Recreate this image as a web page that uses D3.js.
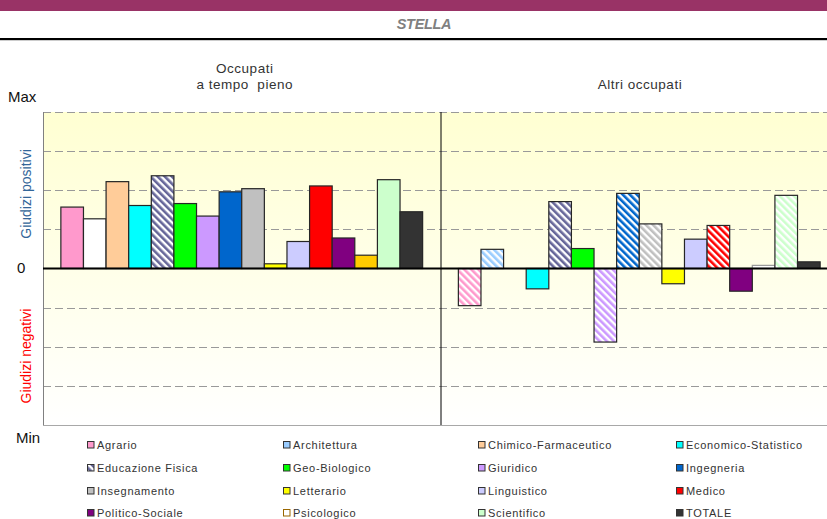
<!DOCTYPE html>
<html>
<head>
<meta charset="utf-8">
<script src="https://cdn.jsdelivr.net/npm/d3@7"></script>
<style>
  html, body { margin: 0; padding: 0; background: #fff; }
  svg { display: block; font-family: "Liberation Sans", Arial, sans-serif; }
</style>
</head>
<body>
<svg id="chart" width="827" height="519"></svg>
<script>
// ---------- DATA ----------
const categories = ["Occupati|a tempo  pieno", "Altri occupati"];
const series = ["Agrario", "Architettura", "Chimico-Farmaceutico", "Economico-Statistico",
  "Educazione Fisica", "Geo-Biologico", "Giuridico", "Ingegneria",
  "Insegnamento", "Letterario", "Linguistico", "Medico",
  "Politico-Sociale", "Psicologico", "Scientifico", "TOTALE"];
const valuesFullTime = [1.57, 1.27, 2.22, 1.61, 2.37, 1.66, 1.34, 1.96, 2.04, 0.12, 0.69, 2.11, 0.78, 0.34, 2.27, 1.45];
const valuesOther    = [-0.95, 0.49, 0, -0.52, 1.71, 0.51, -1.88, 1.92, 1.14, -0.39, 0.75, 1.10, -0.58, 0.08, 1.87, 0.17];
const yTickValues = [-4, 0, 4];
const yTickLabels = ["Min", "0", "Max"];
const subtitle = "STELLA";

// ---------- STYLES ----------
const seriesColors = ["#FF99CC", "#99CCFF", "#FFCC99", "#00FFFF", "#666699", "#00FF00", "#CC99FF", "#0066CC",
  "#C0C0C0", "#FFFF00", "#CCCCFF", "#FF0000", "#800080", "#FFFFFF", "#CCFFCC", "#333333"];
// per-group fill overrides ("h" = hatched with series colour)
const fullTimeFill = ["s", "#FFFFFF", "s", "s", "h", "s", "s", "s", "s", "s", "s", "s", "s", "#FFCC00", "s", "s"];
const otherFill    = ["h", "h", "s", "s", "h", "s", "h", "h", "h", "s", "s", "h", "s", "s", "h", "s"];
const legendFill   = ["s", "s", "s", "s", "h", "s", "s", "s", "s", "s", "s", "s", "s", "s", "s", "s"];

const svg = d3.select("#chart");
const W = 827, H = 519;
const plot = { left: 43, right: 838, top: 112, bottom: 425 };

const defs = svg.append("defs");
const grad = defs.append("linearGradient").attr("id", "bg").attr("x1", 0).attr("y1", 0).attr("x2", 0).attr("y2", 1);
grad.append("stop").attr("offset", "0%").attr("stop-color", "#FFFFD2");
grad.append("stop").attr("offset", "100%").attr("stop-color", "#FFFFFF");

seriesColors.forEach((c, i) => {
  const p = defs.append("pattern").attr("id", "hatch" + i)
    .attr("patternUnits", "userSpaceOnUse").attr("width", 5).attr("height", 5)
    .attr("patternTransform", "rotate(-45)");
  p.append("rect").attr("width", 5).attr("height", 5).attr("fill", "#FFFFFF");
  p.append("rect").attr("width", 2.6).attr("height", 5).attr("fill", c);
});

function fillFor(spec, i) {
  if (spec === "s") return seriesColors[i];
  if (spec === "h") return "url(#hatch" + i + ")";
  return spec;
}

// banner
svg.append("rect").attr("x", 0).attr("y", 0).attr("width", W).attr("height", 11).attr("fill", "#993366");
svg.append("text").attr("x", 424).attr("y", 29).attr("text-anchor", "middle")
  .attr("font-size", 14.5).attr("font-weight", "bold").attr("font-style", "italic")
  .attr("fill", "#808080").attr("letter-spacing", -0.3).text(subtitle);
svg.append("rect").attr("x", 0).attr("y", 38).attr("width", W).attr("height", 2.2).attr("fill", "#000");

// scales
const x0 = d3.scaleBand().domain(categories).range([plot.left, plot.right]).padding(0);
const x1 = d3.scaleBand().domain(series).range([0, x0.bandwidth()]).paddingInner(0).paddingOuter(0.79);
const y = d3.scaleLinear().domain([-4, 4]).range([plot.bottom, plot.top]);

// plot background
svg.append("rect").attr("x", plot.left).attr("y", plot.top)
  .attr("width", plot.right - plot.left).attr("height", plot.bottom - plot.top).attr("fill", "url(#bg)");

// gridlines
const gridG = svg.append("g");
d3.range(-4, 5).filter(v => v !== 0).forEach(v => {
  gridG.append("line").attr("x1", plot.left).attr("x2", plot.right)
    .attr("y1", Math.round(y(v)) + 0.5).attr("y2", Math.round(y(v)) + 0.5)
    .attr("stroke", v === -4 ? "#A8A8A8" : "#999").attr("stroke-width", 1)
    .attr("stroke-dasharray", v === -4 ? null : "8,4");
});
// left border
svg.append("line").attr("x1", plot.left + 0.5).attr("x2", plot.left + 0.5)
  .attr("y1", plot.top).attr("y2", plot.bottom).attr("stroke", "#808080");
// separator
svg.append("line").attr("x1", x0(categories[1]) + 0.5).attr("x2", x0(categories[1]) + 0.5)
  .attr("y1", plot.top).attr("y2", plot.bottom).attr("stroke", "#000");

// bars
const groups = [
  { cat: categories[0], vals: valuesFullTime, fills: fullTimeFill },
  { cat: categories[1], vals: valuesOther, fills: otherFill }
];
groups.forEach(g => {
  const gg = svg.append("g").attr("transform", `translate(${x0(g.cat)},0)`);
  gg.selectAll("rect").data(series.map((s, i) => ({ s, i, v: g.vals[i] })).filter(d => d.v !== 0))
    .join("rect")
    .attr("x", d => x1(d.s))
    .attr("width", x1.bandwidth())
    .attr("y", d => y(Math.max(0, d.v)))
    .attr("height", d => Math.abs(y(d.v) - y(0)))
    .attr("fill", d => fillFor(g.fills[d.i], d.i))
    .attr("stroke", d => (d.i === 13 && g.fills[d.i] === "s") ? "#999" : "#262626")
    .attr("stroke-width", 1.2);
});

// zero line
svg.append("line").attr("x1", plot.left).attr("x2", W)
  .attr("y1", y(0)).attr("y2", y(0)).attr("stroke", "#000").attr("stroke-width", 2);

// y tick labels
const yAxis = d3.axisLeft(y).tickValues(yTickValues).tickFormat((d, i) => yTickLabels[i]).tickSize(0);
const ya = svg.append("g").call(yAxis);
ya.select(".domain").remove();
ya.selectAll("text").attr("font-family", "Liberation Sans, Arial, sans-serif")
  .attr("font-size", 15).attr("fill", "#111").attr("text-anchor", "start")
  .attr("x", (d) => d === 0 ? 17 : (d === 4 ? 8 : 16))
  .attr("dy", "0.32em")
  .attr("transform", (d) => d === 4 ? "translate(0,-15)" : (d === -4 ? "translate(0,13)" : "translate(0,-1)"));

// axis titles
svg.append("text").attr("transform", "translate(31,194) rotate(-90)").attr("text-anchor", "middle")
  .attr("font-size", 14).attr("fill", "#336699").text("Giudizi positivi");
svg.append("text").attr("transform", "translate(31,356) rotate(-90)").attr("text-anchor", "middle")
  .attr("font-size", 14).attr("fill", "#FF0000").text("Giudizi negativi");

// group titles
categories.forEach((c, ci) => {
  const lines = c.split("|");
  const cx = ci === 0 ? x0(c) + x0.bandwidth() / 2 + 3 : 640;
  const baseY = lines.length === 2 ? 73 : 89;
  lines.forEach((ln, li) => {
    svg.append("text").attr("x", cx).attr("y", baseY + li * 16).attr("text-anchor", "middle")
      .attr("font-size", 13.5).attr("letter-spacing", 0.5).attr("fill", "#333")
      .style("white-space", "pre").text(ln);
  });
});

// legend
const legendCols = [87, 283, 478, 676];
const legendRows = [445, 468, 491, 513];
const lg = svg.append("g");
series.forEach((s, i) => {
  const lx = legendCols[i % 4], ly = legendRows[Math.floor(i / 4)];
  lg.append("rect").attr("x", lx + 0.5).attr("y", ly - 3.5).attr("width", 6.5).attr("height", 6.5)
    .attr("fill", i === 13 ? "#FFFFFF" : fillFor(legendFill[i], i))
    .attr("stroke", i === 13 ? "#996600" : "#333").attr("stroke-width", 1);
  lg.append("text").attr("x", lx + 10).attr("y", ly).attr("dy", "0.35em")
    .attr("font-size", 11).attr("letter-spacing", 0.7).attr("fill", "#333").text(s);
});
</script>
</body>
</html>
